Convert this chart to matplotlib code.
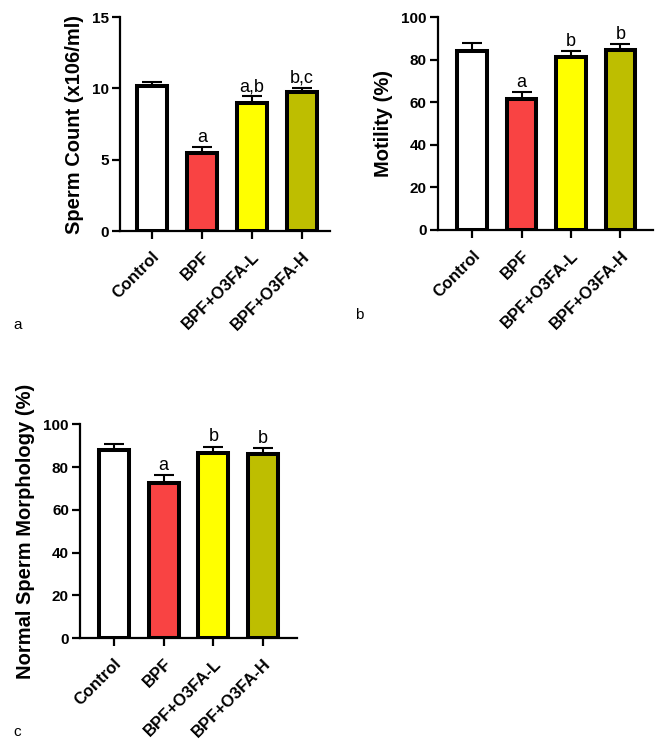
import matplotlib
matplotlib.use("Agg")
import matplotlib.pyplot as plt
import numpy as np

groups = ["Control", "BPF", "BPF+O3FA-L", "BPF+O3FA-H"]
colors = ["#FFFFFF", "#F94343", "#FFFF00", "#BEBE00"]

count_mean = [10.15, 5.5, 8.95, 9.76]
count_err = [0.3, 0.4, 0.5, 0.3]
count_sig = ["", "a", "a,b", "b,c"]

motility_mean = [84.0, 61.3, 81.4, 84.5]
motility_err = [4.0, 3.5, 2.8, 3.0]
motility_sig = ["", "a", "b", "b"]

morph_mean = [87.9, 72.4, 86.6, 86.1]
morph_err = [2.8, 3.8, 3.0, 2.7]
morph_sig = ["", "a", "b", "b"]

plt.rcParams['font.family'] = ['Liberation Sans', 'DejaVu Sans']

fig = plt.figure(figsize=(6.64, 7.44), dpi=100)

def panel(rect, means, errs, sigs, ylabel, ymax, ystep, xlim, sig_off):
    ax = fig.add_axes(rect)
    x = np.arange(len(groups))
    ax.bar(x, means, width=0.6, color=colors, edgecolor="black", linewidth=2.9, zorder=3)
    ax.errorbar(x, means, yerr=[np.zeros(len(errs)), errs], fmt="none", ecolor="black",
                elinewidth=1.5, capsize=7, capthick=1.5, zorder=2)
    for xi, m, e, s in zip(x, means, errs, sigs):
        if s:
            ax.text(xi, m + e + sig_off, s, ha="center", va="bottom", fontsize=13)
    ax.set_xlim(*xlim)
    ax.set_ylim(0, ymax)
    ax.set_yticks(np.arange(0, ymax + 0.001, ystep))
    ax.set_xticks(x)
    ax.set_xticklabels(groups, rotation=45, ha="right", rotation_mode="anchor",
                       fontsize=12, fontweight="bold")
    for lab in ax.get_yticklabels():
        lab.set_fontweight("bold")
        lab.set_fontsize(11)
    ax.set_ylabel(ylabel, fontsize=14.5, fontweight="bold", labelpad=6)
    for sp in ["top", "right"]:
        ax.spines[sp].set_visible(False)
    for sp in ["left", "bottom"]:
        ax.spines[sp].set_linewidth(1.6)
    ax.tick_params(axis="both", width=1.6, length=6, pad=2)
    ax.tick_params(axis="x", pad=7)
    return ax

panel([0.1807, 0.6895, 0.3163, 0.2875], count_mean, count_err, count_sig,
      "Sperm Count (x106/ml)", 15, 5, (-0.64, 3.56), 0.05)
panel([0.6596, 0.6909, 0.3238, 0.2861], motility_mean, motility_err, motility_sig,
      "Motility (%)", 100, 20, (-0.69, 3.66), 0.5)
panel([0.1205, 0.1421, 0.3268, 0.2876], morph_mean, morph_err, morph_sig,
      "Normal Sperm Morphology (%)", 100, 20, (-0.68, 3.68), 0.5)

fig.text(13 / 664, 1 - 325 / 744, "a", fontsize=11, ha="left", va="center")
fig.text(355 / 664, 1 - 315 / 744, "b", fontsize=11, ha="left", va="center")
fig.text(13 / 664, 1 - 732 / 744, "c", fontsize=11, ha="left", va="center")

fig.savefig("out.png", dpi=100, facecolor="white")
